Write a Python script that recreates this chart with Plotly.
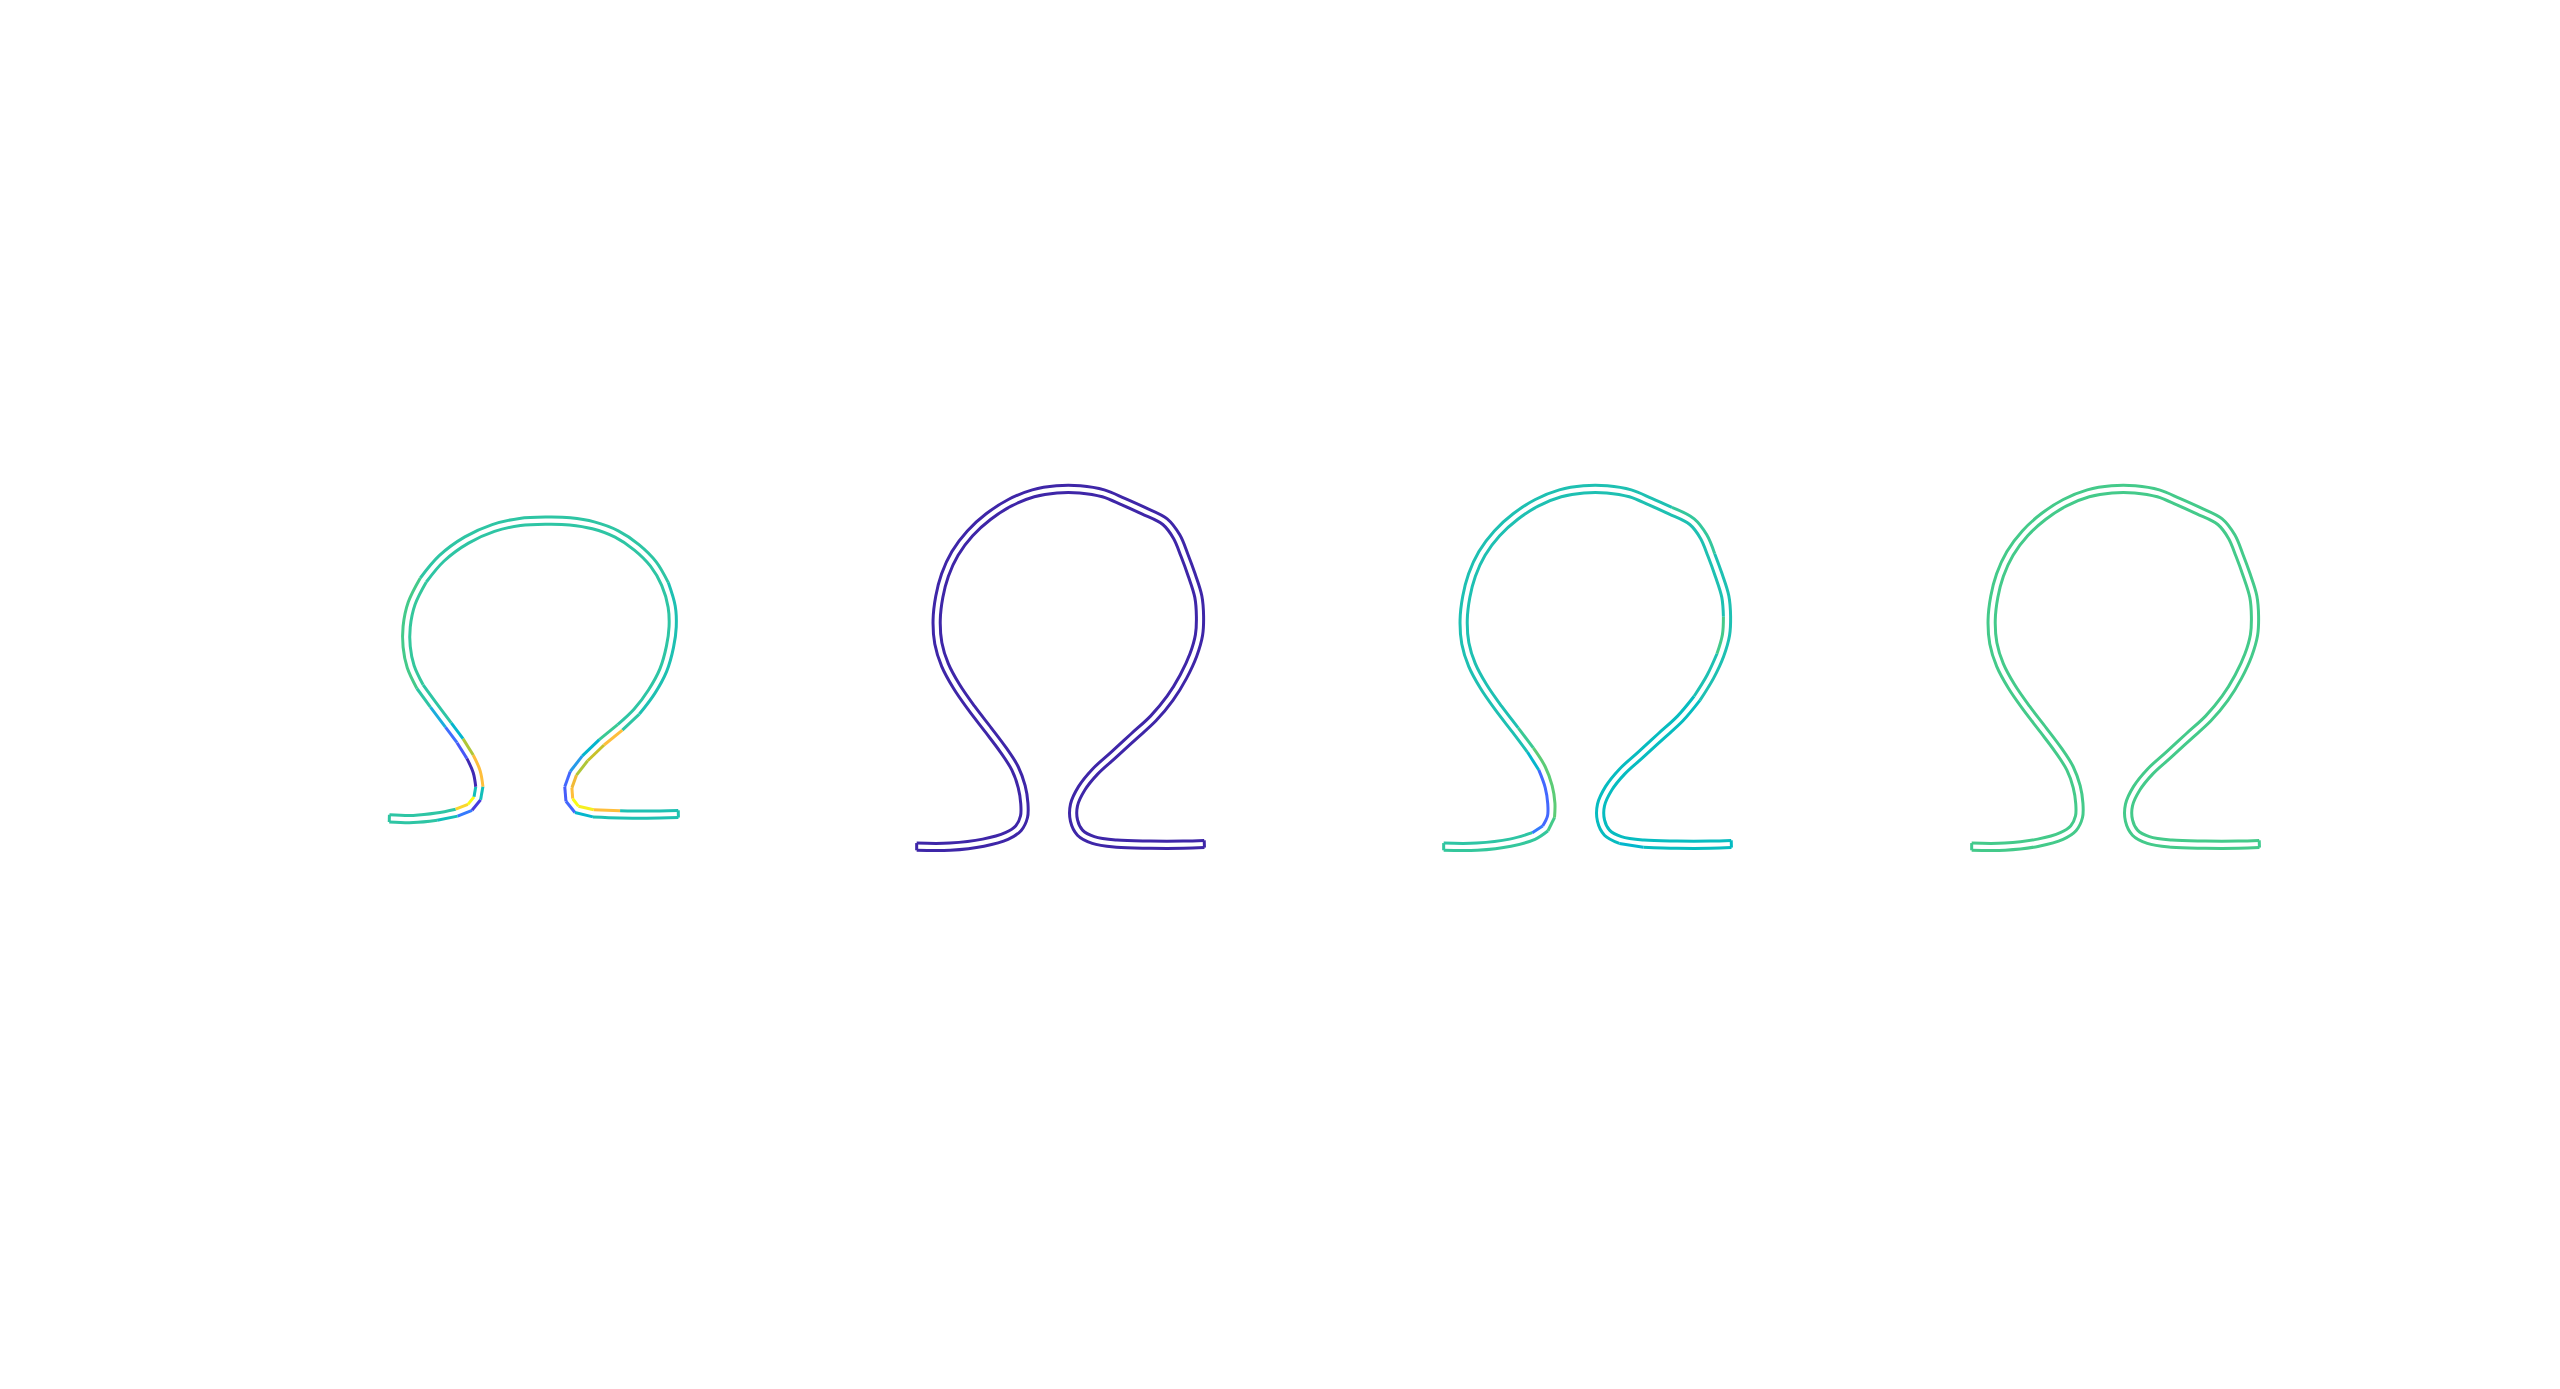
import numpy as np
import plotly.graph_objects as go

# ---------------- data (units = 1/3 px) ----------------
# centreline of the reference (undeformed) omega strip
REF_X = [28, 100, 170, 230, 270, 292, 298, 290, 270, 240, 205, 160, 120, 92, 80, 80, 95, 130, 185, 260,
         340, 420, 500, 570, 640, 710, 770, 820, 855, 875, 878, 870, 850, 815, 770, 720, 665, 615, 580, 565,
         568, 590, 640, 720, 800, 895]
REF_Y = [955, 957, 950, 938, 922, 895, 860, 815, 770, 722, 675, 615, 560, 500, 440, 380, 310, 240, 175, 120,
         84, 66, 62, 64, 76, 102, 142, 192, 252, 320, 380, 440, 510, 575, 635, 682, 727, 775, 820, 862,
         900, 928, 940, 943, 944, 942]

# centreline of the deformed omega strip (same for panels 2-4)
DEF_X = [50, 150, 250, 320, 355, 372, 373, 365, 345, 310, 265, 215, 170, 135, 115, 110, 118, 135, 165, 210,
         265, 330, 400, 470, 540, 610, 670, 730, 795, 830, 853, 875, 895, 900, 897, 880, 850, 810, 760, 700,
         640, 585, 545, 522, 522, 540, 580, 650, 750, 850, 913]
DEF_Y = [1130, 1130, 1118, 1098, 1075, 1040, 1000, 950, 895, 840, 780, 715, 650, 585, 520, 450, 380, 315, 250, 190,
         140, 98, 70, 58, 58, 70, 95, 122, 155, 200, 255, 315, 380, 440, 495, 555, 620, 685, 745, 800,
         855, 905, 955, 1005, 1052, 1088, 1110, 1121, 1124, 1124, 1122]

# field values (0..1) along the two edges of each strip
# P = gap / inner edge, Q = outer edge
P1_VALUES = [.55, .55, .50, .25, .08, .50, .85, .85, .72, .45, .55, .55, .57, .57, .57, .57, .57, .55, .55, .55,
             .55, .55, .55, .55, .55, .55, .55, .55, .55, .55, .55, .55, .55, .55, .55, .58, .45, .35, .20, .17,
             .20, .45, .52, .52, .52, .52]
Q1_VALUES = [.55, .55, .55, .90, 1.0, .50, .02, .02, .15, .22, .40, .55, .60, .60, .60, .60, .60, .55, .55, .55,
             .55, .55, .55, .55, .55, .55, .55, .55, .52, .52, .52, .52, .52, .52, .55, .85, .75, .72, .82, .85,
             1.0, .97, .85, .52, .52, .52]

P2_VALUES = [0.0] * 51
Q2_VALUES = [0.0] * 51

P3_VALUES = [.56, .56, .56, .56, .60, .62, .62, .62, .62, .58, .51, .51, .51, .51, .51, .51, .51, .51, .51, .51,
             .51, .51, .51, .51, .51, .51, .51, .51, .51, .51, .51, .51, .51, .60, .60, .51, .51, .48, .48, .48,
             .48, .48, .48, .48, .48, .48, .45, .48, .48, .48, .48]
Q3_VALUES = [.55, .55, .55, .25, .20, .20, .20, .20, .45, .51, .51, .51, .51, .51, .51, .51, .51, .51, .51, .51,
             .51, .51, .51, .51, .51, .51, .51, .56, .56, .56, .51, .51, .51, .51, .51, .51, .51, .48, .48, .48,
             .48, .48, .48, .48, .48, .48, .48, .48, .48, .48, .48]

P4_VALUES = [0.587] * 51
Q4_VALUES = [0.587] * 51

# ---------------- layout / style ----------------
W, H = 2560, 1389
U = 3.0                               # data units per pixel
PANEL_ORIGIN = [(1140, 1500), (2700, 1410), (4281, 1410), (5865, 1410)]
HALF_WIDTH = 3.6 * U                  # half thickness of the strip
LINE_W = 3.0
NBINS = 64

PARULA = [
    (0.2422, 0.1504, 0.6603), (0.2504, 0.1650, 0.7076), (0.2578, 0.1818, 0.7511), (0.2647, 0.1978, 0.7952),
    (0.2706, 0.2147, 0.8364), (0.2751, 0.2342, 0.8710), (0.2783, 0.2559, 0.8991), (0.2803, 0.2782, 0.9221),
    (0.2813, 0.3006, 0.9414), (0.2810, 0.3228, 0.9579), (0.2795, 0.3447, 0.9717), (0.2760, 0.3667, 0.9829),
    (0.2699, 0.3892, 0.9906), (0.2602, 0.4123, 0.9952), (0.2440, 0.4358, 0.9988), (0.2206, 0.4603, 0.9973),
    (0.1963, 0.4847, 0.9892), (0.1834, 0.5074, 0.9798), (0.1786, 0.5289, 0.9682), (0.1764, 0.5499, 0.9520),
    (0.1687, 0.5703, 0.9359), (0.1540, 0.5902, 0.9218), (0.1460, 0.6091, 0.9079), (0.1380, 0.6276, 0.8973),
    (0.1248, 0.6459, 0.8883), (0.1113, 0.6635, 0.8763), (0.0952, 0.6798, 0.8598), (0.0689, 0.6948, 0.8394),
    (0.0297, 0.7082, 0.8163), (0.0036, 0.7203, 0.7917), (0.0067, 0.7312, 0.7660), (0.0433, 0.7411, 0.7394),
    (0.0964, 0.7500, 0.7120), (0.1408, 0.7584, 0.6842), (0.1717, 0.7670, 0.6554), (0.1938, 0.7758, 0.6251),
    (0.2161, 0.7843, 0.5923), (0.2470, 0.7918, 0.5567), (0.2906, 0.7973, 0.5188), (0.3406, 0.8008, 0.4789),
    (0.3909, 0.8029, 0.4354), (0.4456, 0.8024, 0.3909), (0.5044, 0.7993, 0.3480), (0.5616, 0.7942, 0.3045),
    (0.6174, 0.7876, 0.2612), (0.6720, 0.7793, 0.2227), (0.7242, 0.7698, 0.1910), (0.7738, 0.7598, 0.1646),
    (0.8203, 0.7498, 0.1535), (0.8634, 0.7406, 0.1596), (0.9035, 0.7330, 0.1774), (0.9393, 0.7288, 0.2100),
    (0.9728, 0.7298, 0.2394), (0.9956, 0.7434, 0.2371), (0.9970, 0.7659, 0.2199), (0.9952, 0.7893, 0.2028),
    (0.9892, 0.8136, 0.1885), (0.9786, 0.8386, 0.1766), (0.9676, 0.8639, 0.1643), (0.9610, 0.8890, 0.1537),
    (0.9597, 0.9135, 0.1423), (0.9628, 0.9373, 0.1265), (0.9691, 0.9606, 0.1064), (0.9769, 0.9839, 0.0805)]


def parula(v):
    v = min(max(float(v), 0.0), 1.0)
    pos = v * (len(PARULA) - 1)
    i = int(np.floor(pos))
    if i >= len(PARULA) - 1:
        c = np.array(PARULA[-1])
    else:
        f = pos - i
        c = (1 - f) * np.array(PARULA[i]) + f * np.array(PARULA[i + 1])
    r, g, b = (np.round(255 * c)).astype(int)
    return f"rgb({r},{g},{b})"


def strip_edges(xs, ys, ox, oy):
    x = np.asarray(xs, float) + ox
    y = np.asarray(ys, float) + oy
    tx, ty = np.gradient(x), np.gradient(y)
    n = np.hypot(tx, ty)
    nx, ny = -ty / n, tx / n
    P = (x + HALF_WIDTH * nx, y + HALF_WIDTH * ny)
    Q = (x - HALF_WIDTH * nx, y - HALF_WIDTH * ny)
    return P, Q


fig = go.Figure()


def add_edge(ex, ey, vals):
    """draw one edge as smooth spline runs of constant colour"""
    bins = [int(round(v * NBINS)) for v in vals]
    n = len(bins)
    starts = [0] + [i for i in range(1, n) if bins[i] != bins[i - 1]]
    for k, s in enumerate(starts):
        e = starts[k + 1] if k + 1 < len(starts) else n - 1
        if e == s:
            continue
        fig.add_trace(go.Scatter(
            x=list(ex[s:e + 1]), y=list(ey[s:e + 1]), mode="lines",
            line=dict(color=parula(bins[s] / NBINS), width=LINE_W, shape="spline", smoothing=1.0),
            hoverinfo="skip", showlegend=False))


def add_cap(x0, y0, x1, y1, v):
    fig.add_trace(go.Scatter(
        x=[x0, x1], y=[y0, y1], mode="lines",
        line=dict(color=parula(v), width=LINE_W),
        hoverinfo="skip", showlegend=False))


panels = [
    (REF_X, REF_Y, P1_VALUES, Q1_VALUES),
    (DEF_X, DEF_Y, P2_VALUES, Q2_VALUES),
    (DEF_X, DEF_Y, P3_VALUES, Q3_VALUES),
    (DEF_X, DEF_Y, P4_VALUES, Q4_VALUES),
]

for (cx, cy, vp, vq), (ox, oy) in zip(panels, PANEL_ORIGIN):
    (px, py), (qx, qy) = strip_edges(cx, cy, ox, oy)
    add_edge(px, py, vp)
    add_edge(qx, qy, vq)
    add_cap(px[0], py[0], qx[0], qy[0], (vp[0] + vq[0]) / 2)
    add_cap(px[-1], py[-1], qx[-1], qy[-1], (vp[-1] + vq[-1]) / 2)

fig.update_layout(
    width=W, height=H,
    margin=dict(l=0, r=0, t=0, b=0),
    paper_bgcolor="white", plot_bgcolor="white",
    xaxis=dict(range=[0, W * U], visible=False, fixedrange=True),
    yaxis=dict(range=[H * U, 0], visible=False, fixedrange=True),
    showlegend=False,
)

fig.write_html("out.html")
